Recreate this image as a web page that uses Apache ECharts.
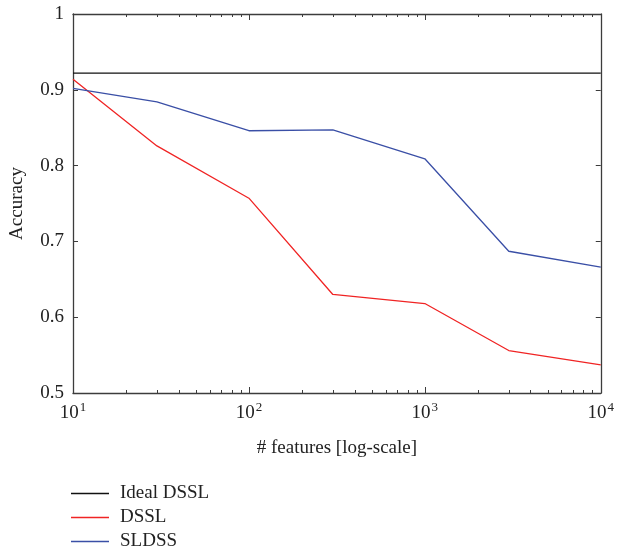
<!DOCTYPE html>
<html>
<head>
<meta charset="utf-8">
<script src="https://cdn.jsdelivr.net/npm/echarts@6/dist/echarts.min.js"></script>
<style>
html,body{margin:0;padding:0;background:#fff;}
#chart{width:617px;height:554px;}
</style>
</head>
<body>
<div id="chart"></div>
<script>
const features = [10, 30, 100, 300, 1000, 3000, 10000];
const dssl = [0.914, 0.826, 0.757, 0.630, 0.618, 0.556, 0.537];
const sldss = [0.902, 0.884, 0.846, 0.847, 0.809, 0.687, 0.666];
const idealDssl = 0.922;
const xMajorTicks = [10, 100, 1000, 10000];
const xMinorTicks = [20,30,40,50,60,70,80,90,200,300,400,500,600,700,800,900,2000,3000,4000,5000,6000,7000,8000,9000];
const yTicks = [0.5, 0.6, 0.7, 0.8, 0.9, 1];
const seriesNames = ['Ideal DSSL', 'DSSL', 'SLDSS'];

const FONT = '"Liberation Serif", "DejaVu Serif", serif';
const frameColor = '#3c3c3c';

function pairs(xs, ys) { return xs.map((x, i) => [x, ys[i]]); }

const baseX = {
  type: 'log', logBase: 10, min: 10, max: 10000, gridIndex: 0,
  splitLine: { show: false }, minorTick: { show: false }, minorSplitLine: { show: false }
};

const chart = echarts.init(document.getElementById('chart'), null, { renderer: 'canvas' });
chart.setOption({
  animation: false,
  backgroundColor: '#fff',
  grid: { left: 73, right: 14, top: 14, bottom: 161, containLabel: false },
  xAxis: [
    Object.assign({}, baseX, {
      position: 'bottom',
      name: '# features [log-scale]', nameLocation: 'middle', nameGap: 46,
      nameTextStyle: { fontFamily: FONT, fontSize: 19, color: '#222' },
      axisLine: { show: true, lineStyle: { color: frameColor, width: 1.3 } },
      axisTick: { show: true, inside: true, length: 6, customValues: xMajorTicks, lineStyle: { color: frameColor, width: 1 } },
      axisLabel: {
        show: true, margin: 8, customValues: xMajorTicks,
        formatter: v => '{b|10}{s|' + Math.round(Math.log10(v)) + '}',
        rich: {
          b: { fontFamily: FONT, fontSize: 19, color: '#222', verticalAlign: 'bottom', lineHeight: 22 },
          s: { fontFamily: FONT, fontSize: 13, color: '#222', verticalAlign: 'top', lineHeight: 22, padding: [0, 0, 9, 1] }
        }
      }
    }),
    Object.assign({}, baseX, {
      position: 'bottom',
      axisLine: { show: false },
      axisTick: { show: true, inside: true, length: 3, customValues: xMinorTicks, lineStyle: { color: frameColor, width: 1 } },
      axisLabel: { show: false }
    }),
    Object.assign({}, baseX, {
      position: 'top',
      axisLine: { show: true, lineStyle: { color: frameColor, width: 1.3 } },
      axisTick: { show: true, inside: true, length: 6, customValues: xMajorTicks, lineStyle: { color: frameColor, width: 1 } },
      axisLabel: { show: false }
    }),
    Object.assign({}, baseX, {
      position: 'top',
      axisLine: { show: false },
      axisTick: { show: true, inside: true, length: 3, customValues: xMinorTicks, lineStyle: { color: frameColor, width: 1 } },
      axisLabel: { show: false }
    })
  ],
  yAxis: [
    {
      type: 'value', min: 0.5, max: 1, interval: 0.1, position: 'left',
      name: 'Accuracy', nameLocation: 'middle', nameGap: 46,
      nameTextStyle: { fontFamily: FONT, fontSize: 19, color: '#222' },
      splitLine: { show: false },
      axisLine: { show: true, lineStyle: { color: frameColor, width: 1.3 } },
      axisTick: { show: true, inside: true, length: 5, lineStyle: { color: frameColor, width: 1 } },
      axisLabel: { show: true, margin: 9, fontFamily: FONT, fontSize: 19, color: '#222',
        customValues: yTicks, formatter: v => String(Math.round(v * 10) / 10) }
    },
    {
      type: 'value', min: 0.5, max: 1, interval: 0.1, position: 'right',
      splitLine: { show: false },
      axisLine: { show: true, lineStyle: { color: frameColor, width: 1.3 } },
      axisTick: { show: true, inside: true, length: 5, lineStyle: { color: frameColor, width: 1 } },
      axisLabel: { show: false }
    }
  ],
  legend: {
    orient: 'vertical', left: 66, top: 479, height: 75, itemGap: 5, itemWidth: 38, itemHeight: 14,
    icon: 'path://M0,0 L38,0 L38,1.3 L0,1.3 Z',
    data: seriesNames.map((n, i) => ({ name: n })),
    textStyle: { fontFamily: FONT, fontSize: 19, color: '#222', padding: [0, 0, 0, 6] }
  },
  series: [
    {
      name: seriesNames[0], type: 'line', xAxisIndex: 0, yAxisIndex: 0,
      data: [[features[0], idealDssl], [features[features.length - 1], idealDssl]],
      symbol: 'none', lineStyle: { color: '#111', width: 1.3 }, itemStyle: { color: '#111' }
    },
    {
      name: seriesNames[1], type: 'line', xAxisIndex: 0, yAxisIndex: 0,
      data: pairs(features, dssl),
      symbol: 'none', lineStyle: { color: '#f02424', width: 1.3 }, itemStyle: { color: '#f02424' }
    },
    {
      name: seriesNames[2], type: 'line', xAxisIndex: 0, yAxisIndex: 0,
      data: pairs(features, sldss),
      symbol: 'none', lineStyle: { color: '#3a4fa6', width: 1.3 }, itemStyle: { color: '#3a4fa6' }
    }
  ]
});
</script>
</body>
</html>
